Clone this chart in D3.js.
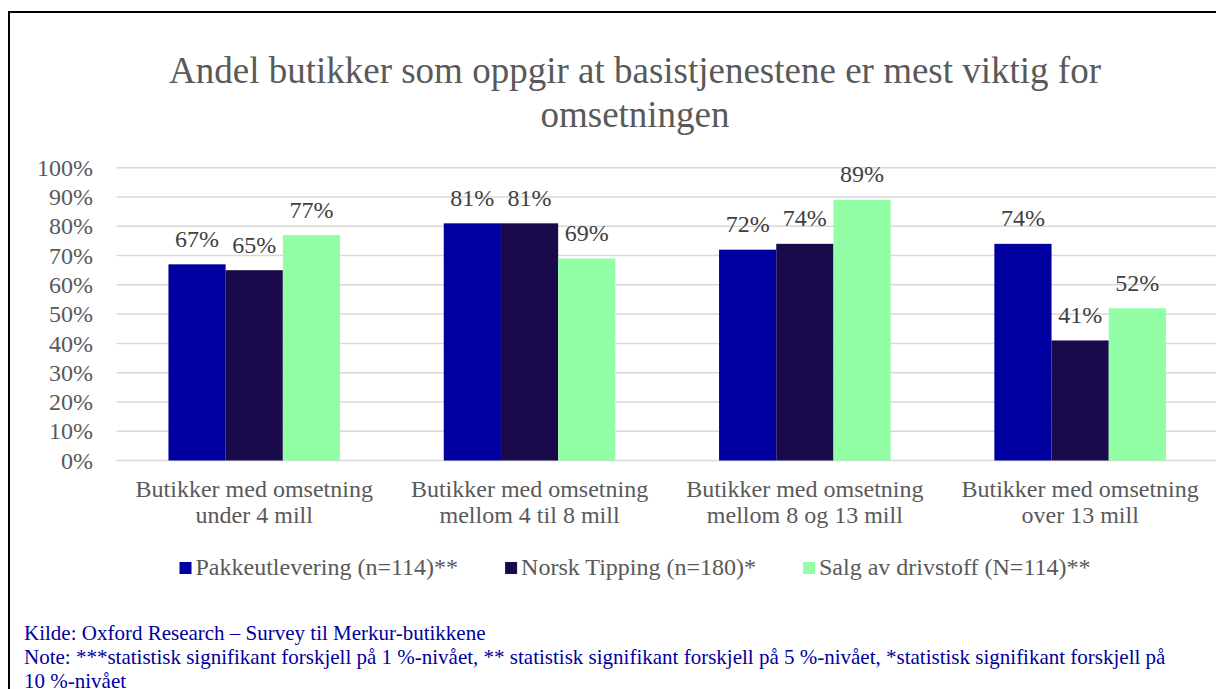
<!DOCTYPE html>
<html>
<head>
<meta charset="utf-8">
<script src="https://cdn.jsdelivr.net/npm/d3@7"></script>
<style>
  body { margin: 0; background: #fff; }
</style>
</head>
<body>
<div id="chart"></div>
<script>
var w = 1216;
var h = 689;
var serif = "'Liberation Serif', 'Times New Roman', Times, serif";

// data
var titleLines = ["Andel butikker som oppgir at basistjenestene er mest viktig for", "omsetningen"];
var categories = [
    ["Butikker med omsetning", "under 4 mill"],
    ["Butikker med omsetning", "mellom 4 til 8 mill"],
    ["Butikker med omsetning", "mellom 8 og 13 mill"],
    ["Butikker med omsetning", "over 13 mill"]
];
var seriesNames = ["Pakkeutlevering (n=114)**", "Norsk Tipping (n=180)*", "Salg av drivstoff (N=114)**"];
var pakke = [0.67, 0.81, 0.72, 0.74];
var tipping = [0.65, 0.81, 0.74, 0.41];
var drivstoff = [0.77, 0.69, 0.89, 0.52];
var yTicks = [0, 0.1, 0.2, 0.3, 0.4, 0.5, 0.6, 0.7, 0.8, 0.9, 1];
var footer = [
    "Kilde: Oxford Research \u2013 Survey til Merkur-butikkene",
    "Note: ***statistisk signifikant forskjell p\u00e5 1 %-niv\u00e5et, ** statistisk signifikant forskjell p\u00e5 5 %-niv\u00e5et, *statistisk signifikant forskjell p\u00e5",
    "10 %-niv\u00e5et"
];
var color = ["#0000a0", "#1b0a4b", "#92ffa7"];

var series = [pakke, tipping, drivstoff];

var svg = d3.select("#chart")
            .append("svg")
            .attr("width", w)
            .attr("height", h)
            .style("font-family", serif);

// frame (right and bottom edges fall outside the picture)
svg.append("rect")
    .attr("x", 9)
    .attr("y", 12)
    .attr("width", w + 20)
    .attr("height", h + 20)
    .attr("fill", "none")
    .attr("stroke", "#000")
    .attr("stroke-width", 2);

// title
svg.selectAll(".title")
    .data(titleLines)
    .enter()
    .append("text")
    .attr("class", "title")
    .attr("x", 635)
    .attr("y", (d, i) => 83 + i * 43.5)
    .attr("text-anchor", "middle")
    .style("font-size", "37px")
    .attr("fill", "#595959")
    .text((d) => d);

// scales
var xScale = d3.scaleBand()
    .domain(d3.range(categories.length))
    .range([116.6, 116.6 + 275.3 * 4]);
var groupWidth = 171.6;
var xInner = d3.scaleBand()
    .domain(d3.range(series.length))
    .range([0, groupWidth]);
var yScale = d3.scaleLinear()
    .domain([0, 1])
    .range([460.5, 167.7]);

// gridlines
svg.append("g")
    .selectAll("line")
    .data(yTicks)
    .enter()
    .append("line")
    .attr("x1", 116.6)
    .attr("x2", w)
    .attr("y1", (d) => yScale(d))
    .attr("y2", (d) => yScale(d))
    .attr("stroke", "#d9d9d9")
    .attr("stroke-width", 1.5);

// y axis
var yAxis = d3.axisLeft(yScale)
    .tickValues(yTicks)
    .tickFormat(d3.format(".0%"))
    .tickSize(0)
    .tickPadding(0);
var yg = svg.append("g")
    .attr("transform", "translate(93, 0)")
    .call(yAxis);
yg.select(".domain").remove();
yg.selectAll("text")
    .style("font-family", serif)
    .style("font-size", "24px")
    .attr("fill", "#595959");

// bars + value labels
series.forEach(function(vals, s) {
    var g = svg.append("g");
    var barX = (d, i) => xScale(i) + (xScale.bandwidth() - groupWidth) / 2 + xInner(s);
    g.selectAll("rect")
        .data(vals)
        .enter()
        .append("rect")
        .attr("x", barX)
        .attr("y", (d) => yScale(d))
        .attr("width", xInner.bandwidth())
        .attr("height", (d) => yScale(0) - yScale(d))
        .attr("fill", color[s]);
    g.selectAll("text")
        .data(vals)
        .enter()
        .append("text")
        .attr("x", (d, i) => barX(d, i) + xInner.bandwidth() / 2)
        .attr("y", (d) => yScale(d) - 17.5)
        .attr("text-anchor", "middle")
        .style("font-size", "24px")
        .attr("fill", "#404040")
        .text((d) => d3.format(".0%")(d));
});

// x axis labels
var xg = svg.append("g");
categories.forEach(function(lines, i) {
    xg.selectAll(".xl" + i)
        .data(lines)
        .enter()
        .append("text")
        .attr("x", xScale(i) + xScale.bandwidth() / 2)
        .attr("y", (d, j) => 497 + j * 26)
        .attr("text-anchor", "middle")
        .style("font-size", "24px")
        .attr("fill", "#595959")
        .text((d) => d);
});

// legend
var legend = svg.append("g");
var items = legend.selectAll("g")
    .data(seriesNames)
    .enter()
    .append("g");
items.append("rect")
    .attr("width", 12)
    .attr("height", 12)
    .attr("y", 562)
    .attr("fill", (d, i) => color[i]);
items.append("text")
    .attr("x", 16)
    .attr("y", 575)
    .style("font-size", "24px")
    .attr("fill", "#595959")
    .text((d) => d);
var widths = [];
items.select("text").each(function() { widths.push(this.getComputedTextLength() + 16); });
var gap = 47;
var total = d3.sum(widths) + gap * (widths.length - 1);
var lx = 635 - total / 2;
items.attr("transform", function(d, i) {
    var t = "translate(" + lx + ",0)";
    lx += widths[i] + gap;
    return t;
});

// footer
svg.selectAll(".foot")
    .data(footer)
    .enter()
    .append("text")
    .attr("class", "foot")
    .attr("x", 24)
    .attr("y", (d, i) => 640 + i * 24)
    .style("font-size", "21px")
    .attr("fill", "#0000a0")
    .text((d) => d);
</script>
</body>
</html>
